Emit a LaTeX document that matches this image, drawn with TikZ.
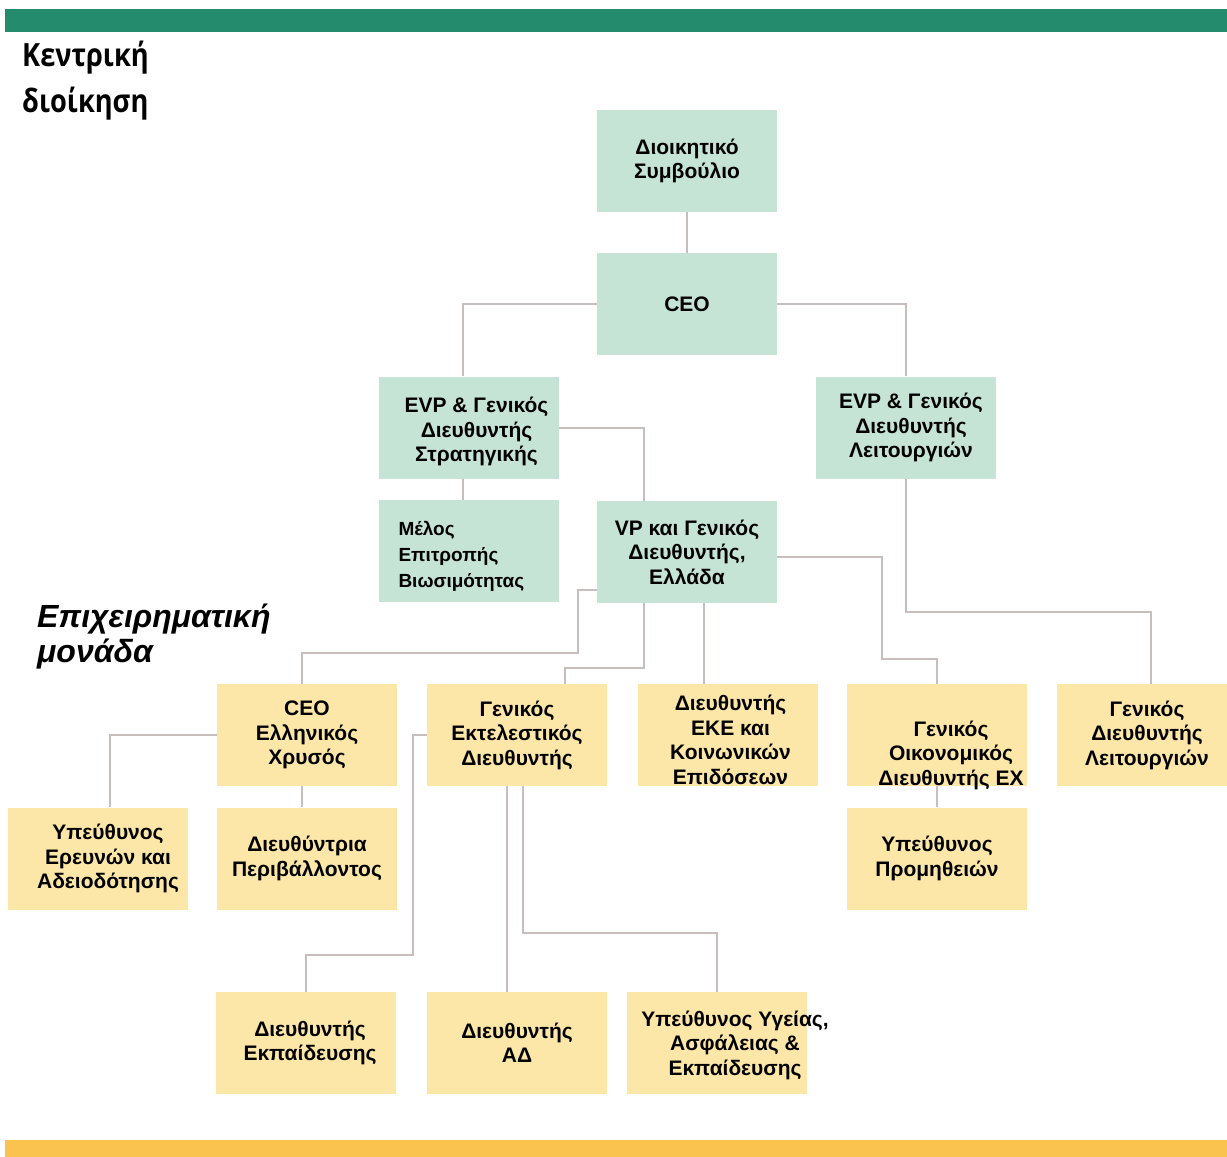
\documentclass[tikz,border=0pt]{standalone}
\usepackage{fontspec}
\setmainfont{Liberation Sans}
\newfontfamily\headfont[FakeStretch=0.85]{Open Sans}
\usetikzlibrary{backgrounds}

\begin{document}
\begin{tikzpicture}[x=1pt, y=-1pt,
		greenbox/.style={fill=boxGreen, minimum width=180pt, minimum height=102pt, inner sep=0pt, align=center, font=\fontsize{21}{24.5}\selectfont\bfseries},
		yellowbox/.style={greenbox, fill=boxYellow},
		boxtext/.style={align=center, inner sep=0pt, font=\fontsize{21}{24.5}\selectfont\bfseries},
		conn/.style={draw=lineGrey, line width=2pt}]
	\definecolor{barGreen}{RGB}{36, 140, 108}
	\definecolor{barOrange}{RGB}{250, 194, 78}
	\definecolor{boxGreen}{RGB}{197, 228, 213}
	\definecolor{boxYellow}{RGB}{252, 230, 168}
	\definecolor{lineGrey}{RGB}{200, 190, 190}

	\useasboundingbox (0,0) rectangle (1227,1157);

	\fill[barGreen] (5,9) rectangle (1227,32);
	\fill[barOrange] (5,1140) rectangle (1227,1157);

	\node[anchor=west, inner sep=0pt, align=left, font=\headfont\fontsize{32}{46}\selectfont\bfseries] (central) at (22,81) {Κεντρική\\διοίκηση};
	\node[anchor=west, inner sep=0pt, align=left, font=\fontsize{32}{35}\selectfont\bfseries\itshape] (unit) at (37,637) {Επιχειρηματική\\μονάδα};

	\node[greenbox] (board) at (687,161) {Διοικητικό\\Συμβούλιο};
	\node[greenbox] (ceo) at (687,304) {CEO};
	\node[greenbox, label={[boxtext, xshift=8pt, yshift=-4pt]center:{EVP \& Γενικός\\Διευθυντής\\Στρατηγικής}}] (evps) at (468.5,427.5) {};
	\node[greenbox, label={[boxtext, xshift=5pt]center:{EVP \& Γενικός\\Διευθυντής\\Λειτουργιών}}] (evpo) at (906,427.5) {};
	\node[greenbox, label={[boxtext, align=left, anchor=west, xshift=20pt, yshift=-5pt, font=\fontsize{19}{26}\selectfont\bfseries]west:{Μέλος\\Επιτροπής\\Βιωσιμότητας}}] (melos) at (468.5,551) {};
	\node[greenbox] (vp) at (687,552) {VP και Γενικός\\Διευθυντής,\\Ελλάδα};

	\node[yellowbox] (ceoex) at (307,735) {CEO\\Ελληνικός\\Χρυσός};
	\node[yellowbox] (gex) at (517,735) {Γενικός\\Εκτελεστικός\\Διευθυντής};
	\node[yellowbox, label={[boxtext, xshift=3pt, yshift=-5pt]center:{Διευθυντής\\ΕΚΕ και\\Κοινωνικών\\Επιδόσεων}}] (eke) at (727.5,735) {};
	\node[yellowbox, label={[boxtext, xshift=14pt, yshift=-20pt]center:{Γενικός\\Οικονομικός\\Διευθυντής ΕΧ}}] (cfo) at (937,735) {};
	\node[yellowbox] (gdl) at (1147,735) {Γενικός\\Διευθυντής\\Λειτουργιών};

	\node[yellowbox, label={[boxtext, xshift=10pt]center:{Υπεύθυνος\\Ερευνών και\\Αδειοδότησης}}] (ereun) at (98,858.5) {};
	\node[yellowbox] (periv) at (307,858.5) {Διευθύντρια\\Περιβάλλοντος};
	\node[yellowbox] (prom) at (937,858.5) {Υπεύθυνος\\Προμηθειών};

	\node[yellowbox, label={[boxtext, xshift=4pt]center:{Διευθυντής\\Εκπαίδευσης}}] (ekp) at (306,1043) {};
	\node[yellowbox] (ad) at (517,1043) {Διευθυντής\\ΑΔ};
	\node[yellowbox, label={[boxtext, xshift=18pt, yshift=-2pt]center:{Υπεύθυνος Υγείας,\\Ασφάλειας \&\\Εκπαίδευσης}}] (ygeia) at (717,1043) {};

	\begin{scope}[on background layer]
		\draw[conn] (board) -- (ceo);
		\draw[conn] (ceo.west) -| ([xshift=-6pt]evps.north);
		\draw[conn] (ceo.east) -| (evpo.north);
		\draw[conn] ([xshift=-6pt]evps.south) -- ([xshift=-6pt]melos.north);
		\draw[conn] (evps.east) -| ([xshift=-43pt]vp.north);
		\draw[conn] (evpo.south) |- ([xshift=4pt, yshift=72pt]gdl.north) -- ([xshift=4pt]gdl.north);
		\draw[conn] ([yshift=-38pt]vp.west) -- ++(-19,0) |- ([xshift=-5pt, yshift=31pt]ceoex.north) -- ([xshift=-5pt]ceoex.north);
		\draw[conn] ([xshift=-43pt]vp.south) |- ([xshift=48pt, yshift=16pt]gex.north) -- ([xshift=48pt]gex.north);
		\draw[conn] ([xshift=17pt]vp.south) -- ([xshift=17pt]vp.south |- eke.north);
		\draw[conn] ([yshift=-5pt]vp.east) -| ([xshift=-55pt, yshift=25pt]cfo.north) -| (cfo.north);
		\draw[conn] (cfo) -- (prom);
		\draw[conn] (ceoex.west) -| ([xshift=12pt]ereun.north);
		\draw[conn] ([xshift=-5pt]ceoex.south) -- ([xshift=-5pt]periv.north);
		\draw[conn] (gex.west) -- ++(-14,0) |- ([yshift=37pt]ekp.north) -- (ekp.north);
		\draw[conn] ([xshift=-10pt]gex.south) -- ([xshift=-10pt]ad.north);
		\draw[conn] ([xshift=6pt]gex.south) |- ([yshift=59pt]ygeia.north) -- (ygeia.north);
	\end{scope}
\end{tikzpicture}
\end{document}
